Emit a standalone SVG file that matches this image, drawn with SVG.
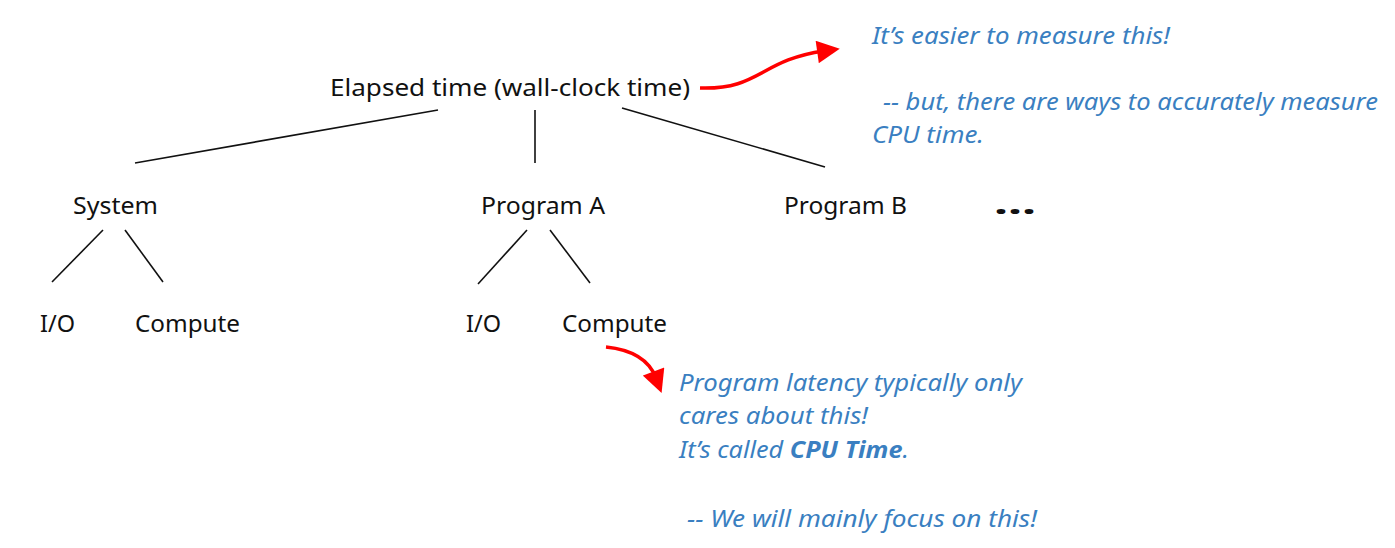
<svg xmlns="http://www.w3.org/2000/svg" width="1395" height="548" viewBox="0 0 1395 548">
<style>
.n{font-family:"Noto Sans","Open Sans",sans-serif;font-size:24px;fill:#111}
.b{font-family:"Noto Sans","Open Sans",sans-serif;font-size:23px;font-style:italic;fill:#3a7fc1}
.l{stroke:#111;stroke-width:1.6;fill:none}
.r{stroke:#ff0000;stroke-width:3.5;fill:none}
</style>
<defs>
<marker id="ah" viewBox="0 0 10 10" refX="3" refY="5" markerWidth="7" markerHeight="6.5" orient="auto" markerUnits="strokeWidth">
<path d="M0,0 L10,5 L0,10 z" fill="#ff0000"/>
</marker>
</defs>
<rect width="1395" height="548" fill="#fff"/>
<g id="connectors">
<line class="l" x1="438" y1="110" x2="135" y2="163"/>
<line class="l" x1="535" y1="110" x2="535" y2="163"/>
<line class="l" x1="622" y1="108" x2="825" y2="167"/>
<line class="l" x1="103" y1="230" x2="52" y2="282"/>
<line class="l" x1="125" y1="230" x2="163" y2="282"/>
<line class="l" x1="527" y1="230" x2="478" y2="284"/>
<line class="l" x1="550" y1="230" x2="590" y2="283"/>
<path class="r" d="M700,88 C760,90 760,60 824,51" marker-end="url(#ah)"/>
<path class="r" d="M606,347 C635,350 650,362 656,378" marker-end="url(#ah)"/>
</g>
<g id="root"><text class="n" x="330" y="96" textLength="360" lengthAdjust="spacingAndGlyphs">Elapsed time (wall-clock time)</text></g>
<g id="system"><text class="n" x="73" y="214" textLength="85" lengthAdjust="spacingAndGlyphs">System</text></g>
<g id="programA"><text class="n" x="481" y="214" textLength="124" lengthAdjust="spacingAndGlyphs">Program A</text></g>
<g id="programB"><text class="n" x="784" y="214" textLength="123" lengthAdjust="spacingAndGlyphs">Program B</text></g>
<g id="more"><text x="994" y="214" style="font-family:'Noto Sans',sans-serif;font-size:30px;font-weight:bold;fill:#111" textLength="42" lengthAdjust="spacingAndGlyphs">...</text></g>
<g id="sysIO"><text class="n" x="40" y="332" textLength="35" lengthAdjust="spacingAndGlyphs">I/O</text></g>
<g id="sysCompute"><text class="n" x="135" y="332" textLength="105" lengthAdjust="spacingAndGlyphs">Compute</text></g>
<g id="paIO"><text class="n" x="466" y="332" textLength="35" lengthAdjust="spacingAndGlyphs">I/O</text></g>
<g id="paCompute"><text class="n" x="562" y="332" textLength="105" lengthAdjust="spacingAndGlyphs">Compute</text></g>
<g id="note1">
<text class="b" x="872" y="44" textLength="298" lengthAdjust="spacingAndGlyphs">It’s easier to measure this!</text>
<text class="b" x="883" y="110" textLength="495" lengthAdjust="spacingAndGlyphs">-- but, there are ways to accurately measure</text>
<text class="b" x="872" y="143" textLength="112" lengthAdjust="spacingAndGlyphs">CPU time.</text>
</g>
<g id="note2">
<text class="b" x="679" y="391" textLength="343" lengthAdjust="spacingAndGlyphs">Program latency typically only</text>
<text class="b" x="679" y="424" textLength="189" lengthAdjust="spacingAndGlyphs">cares about this!</text>
<text class="b" x="679" y="458" textLength="230" lengthAdjust="spacingAndGlyphs">It’s called <tspan font-weight="bold">CPU Time</tspan>.</text>
<text class="b" x="687" y="527" textLength="350" lengthAdjust="spacingAndGlyphs">-- We will mainly focus on this!</text>
</g>
</svg>
